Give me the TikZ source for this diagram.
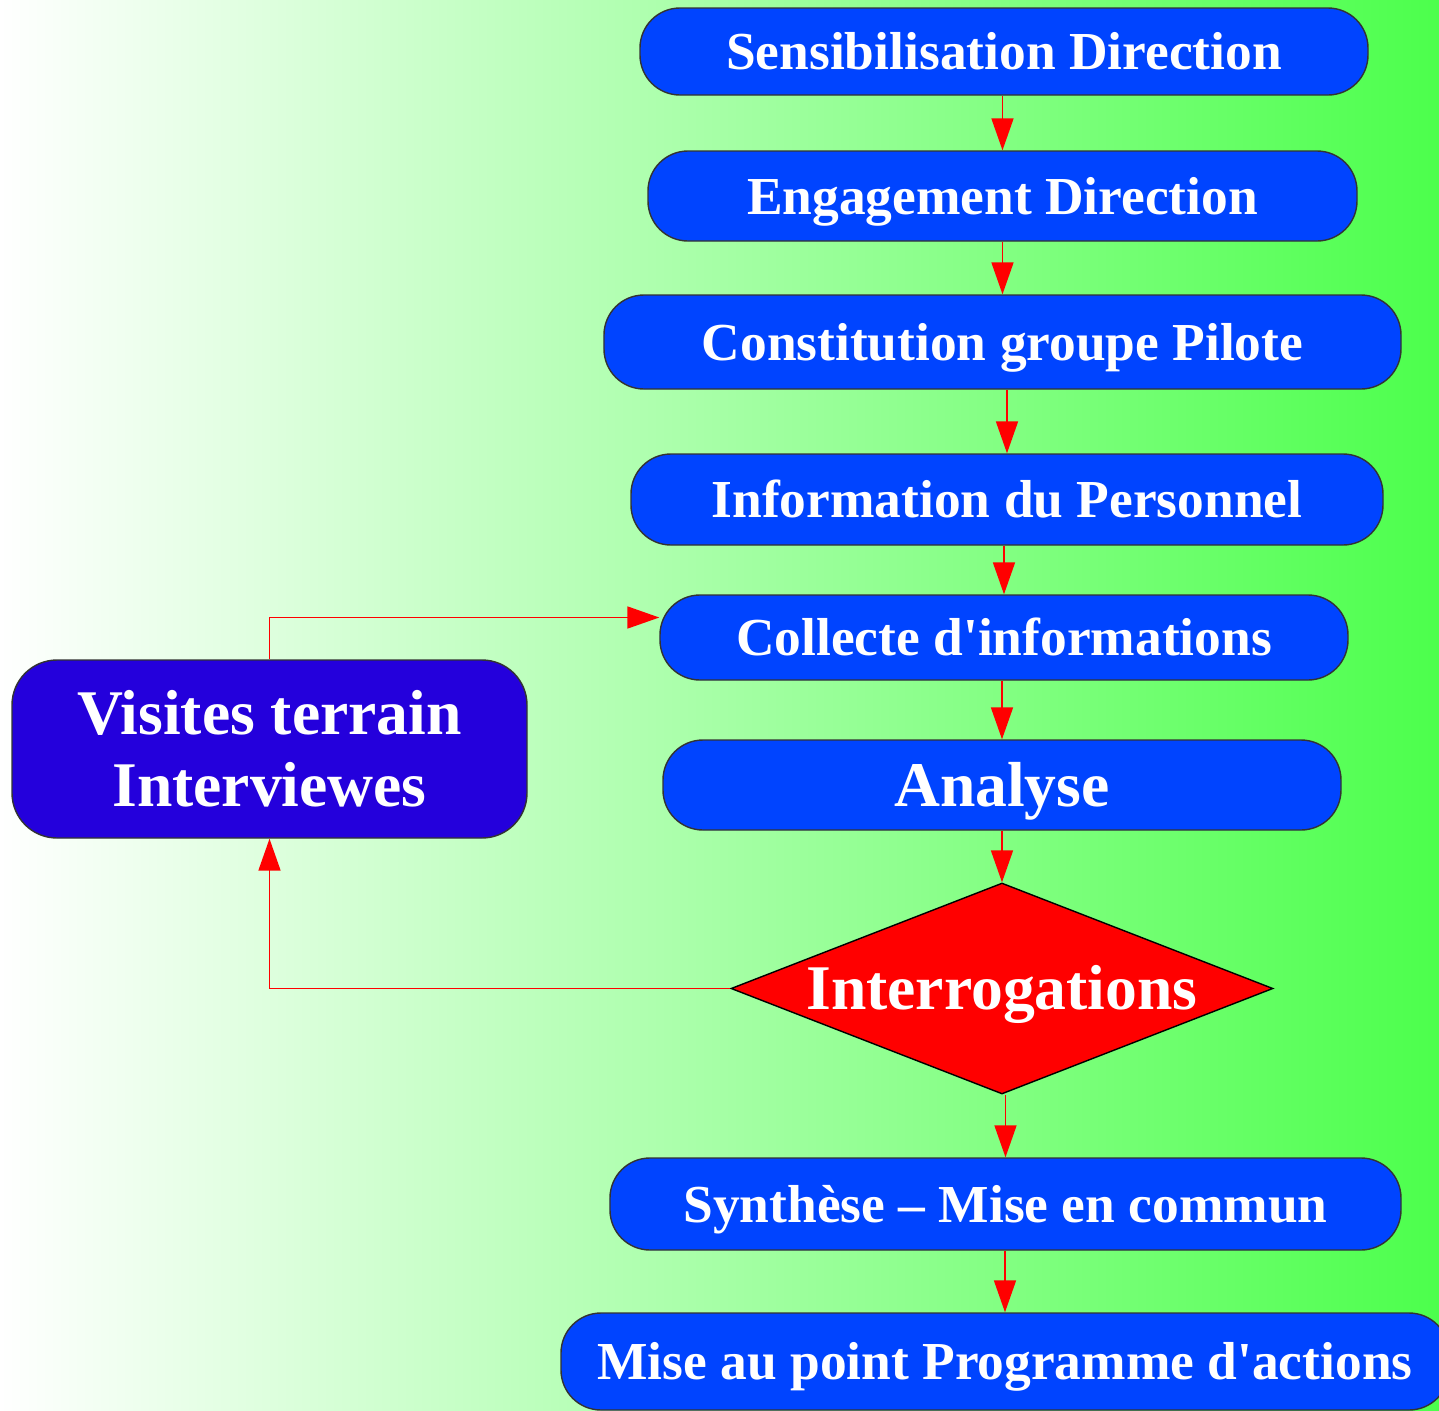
\documentclass[tikz,border=0pt]{standalone}
\usepackage{fontspec}
\setmainfont{Liberation Serif}
\usetikzlibrary{shapes.geometric,arrows.meta}
\definecolor{boxblue}{RGB}{0,68,255}
\definecolor{visblue}{RGB}{36,0,220}
\definecolor{bggreen}{RGB}{76,255,76}
\tikzset{
  boxbase/.style = {draw=black!80,fill=boxblue,text=white,inner sep=0pt,
    rounded corners=0.4cm,font=\bfseries\fontsize{15.2}{18}\selectfont},
  stepbox/.style = {boxbase,text height=10.3pt,text depth=0pt},
  bigtext/.style = {font=\bfseries\fontsize{18.1}{20.5}\selectfont,text height=12.2pt},
  arr/.style = {->,red,line width=0.5pt}
}
\tikzset{>={Triangle[length=3.2mm,width=2.2mm]}}

\begin{document}
\begin{tikzpicture}
  \clip (0,0) rectangle (14.39,-14.11);
  \shade[left color=white,right color=bggreen] (0,0) rectangle (14.39,-14.11);

  \node[stepbox,minimum width=7.28cm,minimum height=0.87cm] (sens)  at (10.04,-0.515) {Sensibilisation Direction};
  \node[stepbox,minimum width=7.09cm,minimum height=0.90cm] (eng)   at (10.025,-1.96) {Engagement Direction};
  \node[stepbox,minimum width=7.97cm,minimum height=0.94cm] (grp)   at (10.025,-3.42) {Constitution groupe Pilote};
  \node[stepbox,minimum width=7.52cm,minimum height=0.91cm] (info)  at (10.07,-4.995) {Information du Personnel};
  \node[stepbox,minimum width=6.88cm,minimum height=0.85cm] (coll)  at (10.04,-6.375) {Collecte d\textquotesingle informations};
  \node[stepbox,bigtext,minimum width=6.78cm,minimum height=0.90cm] (ana) at (10.02,-7.85) {Analyse};
  \node[diamond,draw=black,fill=red,text=white,bigtext,text depth=0pt,inner sep=0pt,aspect=2.57,
        minimum width=5.42cm,minimum height=2.11cm] (quest) at (10.02,-9.885) {Interrogations};
  \node[stepbox,minimum width=7.91cm,minimum height=0.92cm] (synth) at (10.055,-12.04) {Synthèse – Mise en commun};
  \node[stepbox,minimum width=8.88cm,minimum height=0.97cm] (prog)  at (10.05,-13.615) {Mise au point Programme d\textquotesingle actions};
  \node[boxbase,bigtext,text height=,fill=visblue,align=center,rounded corners=0.45cm,
        minimum width=5.15cm,minimum height=1.78cm] (visit) at (2.695,-7.49) {Visites terrain\\Interviewes};

  \foreach \a/\b in {sens/eng,eng/grp,grp/info,info/coll,coll/ana,ana/quest,quest/synth,synth/prog}
    \draw[arr] (\a.south -| \b.north) -- (\b.north);
  \draw[arr] (quest.west) -| (visit.south);
  \draw[arr] (visit.north) |- ([yshift=0.2cm]coll.west);
\end{tikzpicture}
\end{document}
